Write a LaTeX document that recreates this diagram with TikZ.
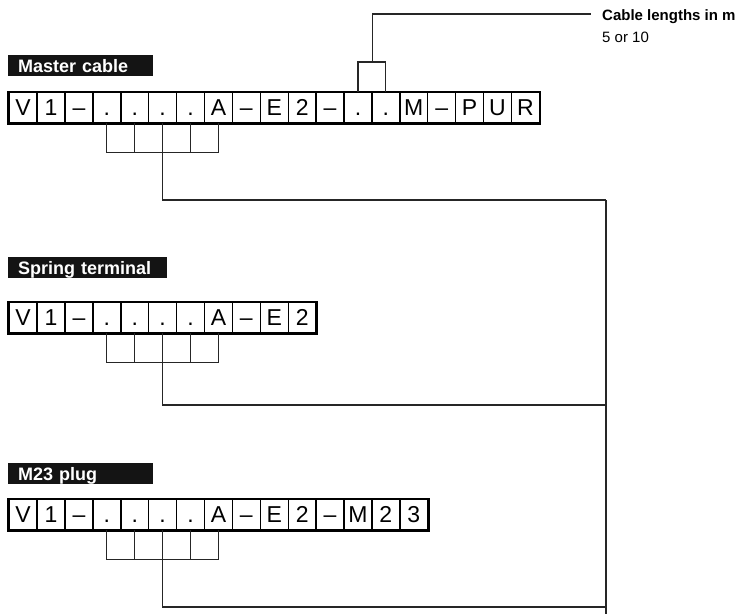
\documentclass[tikz,border=0pt]{standalone}
\usepackage{fontspec}
\setmainfont{Liberation Sans}
\begin{document}
\begin{tikzpicture}[x=1pt,y=-1pt,
  cell/.style={draw=black, line width=1.4pt, minimum width=27.9pt, minimum height=30pt, inner sep=0pt, anchor=north west, font=\fontsize{23}{23}\selectfont, text height=16.5pt, text depth=0pt},
  frame/.style={draw=black, line width=2.2pt},
  link/.style={draw=black!85, line width=1.2pt},
  tag/.style={fill=black!92, text=white, font=\bfseries\fontsize{18}{18}\selectfont, anchor=north west, minimum height=21pt, inner xsep=10pt, inner ysep=0pt, align=left, text height=13pt, text depth=0pt},
  note/.style={anchor=base west, inner sep=0pt, font=\fontsize{15}{15}\selectfont}
]
\useasboundingbox (0,0) rectangle (735,614);

% ---------- Master cable ----------
\node[tag, text width=125pt] (tm) at (8,55) {Master cable};
\foreach \t [count=\i] in {V,1,–,.,.,.,.,A,–,E,2,–,.,.,M,–,P,U,R}
  \node[cell] (m\i) at ({8.5+(\i-1)*27.9},92) {\t};
\draw[frame] (m1.north west) rectangle (m19.south east);
\draw[link] (m4.south) -- ++(0,29) -| (m8.south);
\foreach \j in {5,7} \draw[link] (m\j.south) -- ++(0,29);
\coordinate (r1) at (606,200);
\draw[link] (m6.south) |- (r1);

\draw[link] (m13.north) -- ++(0,-30) -| (m14.north);
\node[note, font=\bfseries\fontsize{15}{15}\selectfont] (cl) at (602,20) {Cable lengths in m};
\node[note] (cv) at (602,42) {5 or 10};
\coordinate (c1) at (591,14);
\draw[link] ([yshift=30pt]m13.north east) |- (c1);

% ---------- Spring terminal ----------
\node[tag, text width=139pt] (ts) at (8,257) {Spring terminal};
\foreach \t [count=\i] in {V,1,–,.,.,.,.,A,–,E,2}
  \node[cell] (s\i) at ({8.5+(\i-1)*27.9},302) {\t};
\draw[frame] (s1.north west) rectangle (s11.south east);
\draw[link] (s4.south) -- ++(0,29) -| (s8.south);
\foreach \j in {5,7} \draw[link] (s\j.south) -- ++(0,29);
\coordinate (r2) at (606,405);
\draw[link] (s6.south) |- (r2);

% ---------- M23 plug ----------
\node[tag, text width=125pt] (tp) at (8,463) {M23 plug};
\foreach \t [count=\i] in {V,1,–,.,.,.,.,A,–,E,2,–,M,2,3}
  \node[cell] (p\i) at ({8.5+(\i-1)*27.9},499) {\t};
\draw[frame] (p1.north west) rectangle (p15.south east);
\draw[link] (p4.south) -- ++(0,29) -| (p8.south);
\foreach \j in {5,7} \draw[link] (p\j.south) -- ++(0,29);
\coordinate (r3) at (606,607);
\draw[link] (p6.south) |- (r3);

% ---------- right collector ----------
\coordinate (rb) at (606,614);
\draw[link] (r1) -- (r2) -- (r3) -- (rb);
\end{tikzpicture}
\end{document}
